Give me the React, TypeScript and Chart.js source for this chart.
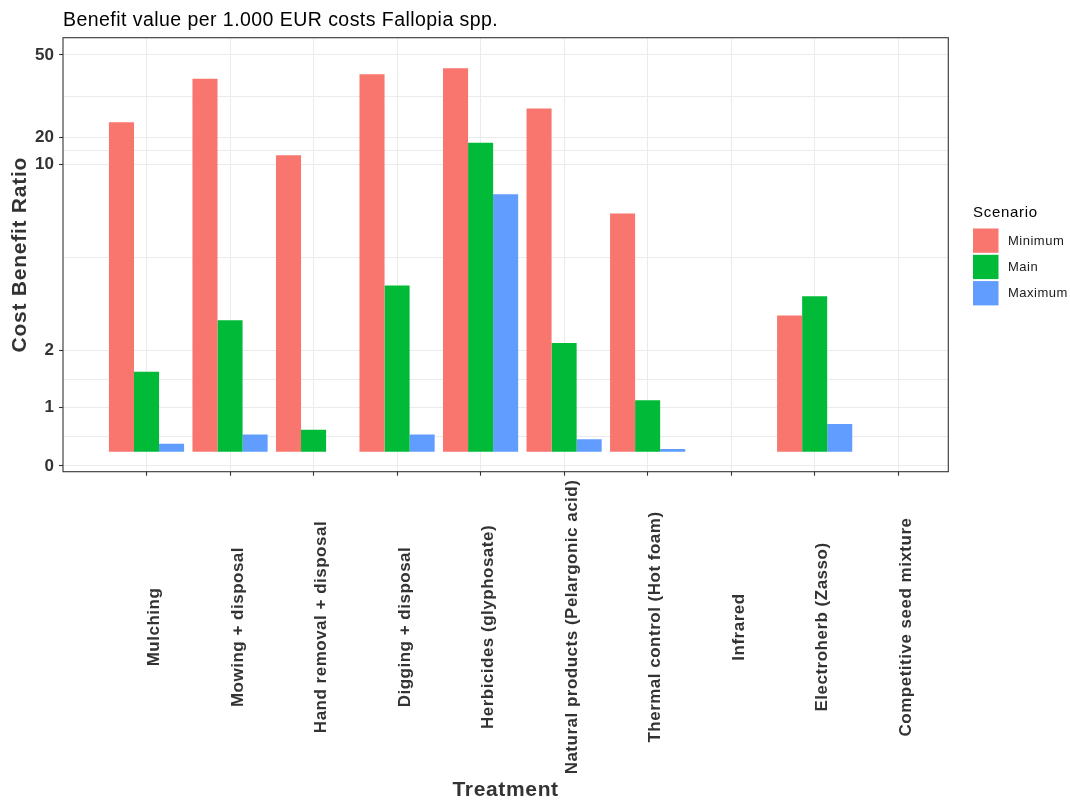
import React, { useEffect, useRef } from 'react';
import { Chart, registerables } from 'chart.js';

Chart.register(...registerables);

// ---------- data ----------
const categories = [
  'Mulching',
  'Mowing + disposal',
  'Hand removal + disposal',
  'Digging + disposal',
  'Herbicides (glyphosate)',
  'Natural products (Pelargonic acid)',
  'Thermal control (Hot foam)',
  'Infrared',
  'Electroherb (Zasso)',
  'Competitive seed mixture',
];
const scenarios = ['Minimum', 'Main', 'Maximum'];
const minimumValues: (number | null)[] = [25.5, 41.3, 13.4, 43.0, 45.2, 30.5, 7.9, null, 3.51, null];
const mainValues: (number | null)[] = [1.63, 3.31, 0.62, 4.8, 18.0, 2.33, 1.13, null, 4.34, null];
const maximumValues: (number | null)[] = [0.38, 0.54, null, 0.54, 8.73, 0.46, 0.29, null, 0.72, null];
const barBaseValue = 0.245;

// y-axis breaks (label value -> position on the transformed axis)
const yBreakValues = [0, 1, 2, 10, 20, 50];
const yBreakLabels = ['0', '1', '2', '10', '20', '50'];
const yBreakPositions = [0, 1, 1.978, 5.168, 5.638, 7.05];
const yAxisMin = -0.098;
const yAxisMax = 7.346;

const seriesColors = ['#F8766D', '#00BA38', '#619CFF'];
const FONT = "'Liberation Sans', Arial, Helvetica, sans-serif";

function toAxis(v: number): number {
  const n = yBreakValues.length;
  let i = 0;
  while (i < n - 2 && v > yBreakValues[i + 1]) i++;
  const v0 = yBreakValues[i], v1 = yBreakValues[i + 1];
  const p0 = yBreakPositions[i], p1 = yBreakPositions[i + 1];
  return p0 + ((v - v0) / (v1 - v0)) * (p1 - p0);
}

// major + minor (midpoint) gridline positions
const yMinorPositions = yBreakPositions.slice(0, -1).map((p, i) => (p + yBreakPositions[i + 1]) / 2);
const yTickList = [
  ...yBreakPositions.map((p, i) => ({ value: p, label: yBreakLabels[i], major: true })),
  ...yMinorPositions.map((p) => ({ value: p, label: '', major: false })),
].sort((a, b) => a.value - b.value);

function setSpacing(ctx: any, px: number) {
  if ('letterSpacing' in ctx) ctx.letterSpacing = `${px}px`;
}

const drawPlugin = {
  id: 'ggDecor',
  afterDraw(chart: any) {
    const { ctx, chartArea } = chart;
    const xs = chart.scales.x;
    const { left, top, right, bottom } = chartArea;
    ctx.save();
    // panel border
    ctx.strokeStyle = '#333333';
    ctx.lineWidth = 1.1;
    ctx.strokeRect(left, top, right - left, bottom - top);

    // title
    ctx.fillStyle = '#000000';
    ctx.font = `19.5px ${FONT}`;
    setSpacing(ctx, 0.45);
    ctx.textAlign = 'left';
    ctx.textBaseline = 'alphabetic';
    ctx.fillText('Benefit value per 1.000 EUR costs Fallopia spp.', left, 26);

    // y title
    ctx.save();
    ctx.translate(20, (top + bottom) / 2);
    ctx.rotate(-Math.PI / 2);
    ctx.font = `bold 21px ${FONT}`;
    setSpacing(ctx, 0.75);
    ctx.fillStyle = '#333333';
    ctx.textAlign = 'center';
    ctx.textBaseline = 'middle';
    ctx.fillText('Cost Benefit Ratio', 0, 0);
    ctx.restore();

    // x labels
    ctx.font = `bold 17px ${FONT}`;
    setSpacing(ctx, 0.5);
    ctx.fillStyle = '#333333';
    categories.forEach((c, i) => {
      const px = xs.getPixelForValue(i + 1);
      ctx.save();
      ctx.translate(px + 8, 627);
      ctx.rotate(-Math.PI / 2);
      ctx.textAlign = 'center';
      ctx.textBaseline = 'middle';
      ctx.fillText(c, 0, 0);
      ctx.restore();
    });

    // x title
    ctx.font = `bold 21px ${FONT}`;
    setSpacing(ctx, 0.65);
    ctx.fillStyle = '#333333';
    ctx.textAlign = 'center';
    ctx.textBaseline = 'alphabetic';
    ctx.fillText('Treatment', (left + right) / 2, 796);

    // legend
    const lx = 973;
    ctx.font = `15px ${FONT}`;
    setSpacing(ctx, 0.7);
    ctx.fillStyle = '#000000';
    ctx.textAlign = 'left';
    ctx.textBaseline = 'middle';
    ctx.fillText('Scenario', lx, 213);
    scenarios.forEach((s, i) => {
      const ky = 228.5 + i * 26.3;
      ctx.fillStyle = seriesColors[i];
      ctx.fillRect(lx, ky, 25.5, 24.3);
      ctx.fillStyle = '#1a1a1a';
      ctx.font = `13px ${FONT}`;
      setSpacing(ctx, 0.5);
      ctx.fillText(s, 1008, ky + 12.5);
    });
    setSpacing(ctx, 0);
    ctx.restore();
  },
};

export default function App() {
  const ref = useRef<HTMLCanvasElement | null>(null);
  useEffect(() => {
    if (!ref.current) return;
    const seriesValues = [minimumValues, mainValues, maximumValues];
    const datasets = scenarios.map((s, si) => ({
      label: s,
      data: seriesValues[si]
        .map((v, i) => (v == null ? null : { x: i + 1, y: toAxis(v) }))
        .filter((d) => d !== null),
      base: toAxis(barBaseValue),
      backgroundColor: seriesColors[si],
      borderWidth: 0,
      categoryPercentage: 0.9,
      barPercentage: 1.0,
    }));
    const chart = new Chart(ref.current, {
      type: 'bar',
      data: { datasets } as any,
      options: {
        responsive: false,
        animation: false,
        devicePixelRatio: 1,
        layout: { padding: { left: 0, top: 37.7, right: 121.7, bottom: 0 } },
        plugins: { legend: { display: false }, tooltip: { enabled: false }, title: { display: false } },
        scales: {
          x: {
            type: 'linear',
            offset: false,
            min: 0,
            max: 10.6,
            afterBuildTicks: (s: any) => {
              s.ticks = categories.map((_, i) => ({ value: i + 1 }));
            },
            ticks: { display: false },
            grid: { offset: false, color: '#EBEBEB', lineWidth: 1, drawTicks: true, tickLength: 4, tickColor: '#333333', tickWidth: 1.1 },
            border: { display: false },
            afterFit: (s: any) => {
              s.height = 802 - 471.7;
            },
          },
          y: {
            type: 'linear',
            min: yAxisMin,
            max: yAxisMax,
            afterBuildTicks: (s: any) => {
              s.ticks = yTickList.map((t) => ({ value: t.value }));
            },
            ticks: {
              autoSkip: false,
              padding: 5,
              color: '#333333',
              font: { family: FONT, size: 17, weight: 'bold' },
              callback: (_v: any, idx: number) => yTickList[idx].label,
            },
            grid: {
              color: '#EBEBEB',
              lineWidth: 1,
              drawTicks: true,
              tickLength: 4,
              tickWidth: 1.1,
              tickColor: (c: any) => (yTickList[c.index] && yTickList[c.index].major ? '#333333' : 'rgba(0,0,0,0)'),
            },
            border: { display: false },
            afterFit: (s: any) => {
              s.width = 63;
            },
          },
        },
      } as any,
      plugins: [drawPlugin],
    });
    return () => chart.destroy();
  }, []);
  return (
    <div style={{ position: 'absolute', left: 0, top: 0, width: 1070, height: 802, background: '#fff' }}>
      <canvas ref={ref} width={1070} height={802} />
    </div>
  );
}
